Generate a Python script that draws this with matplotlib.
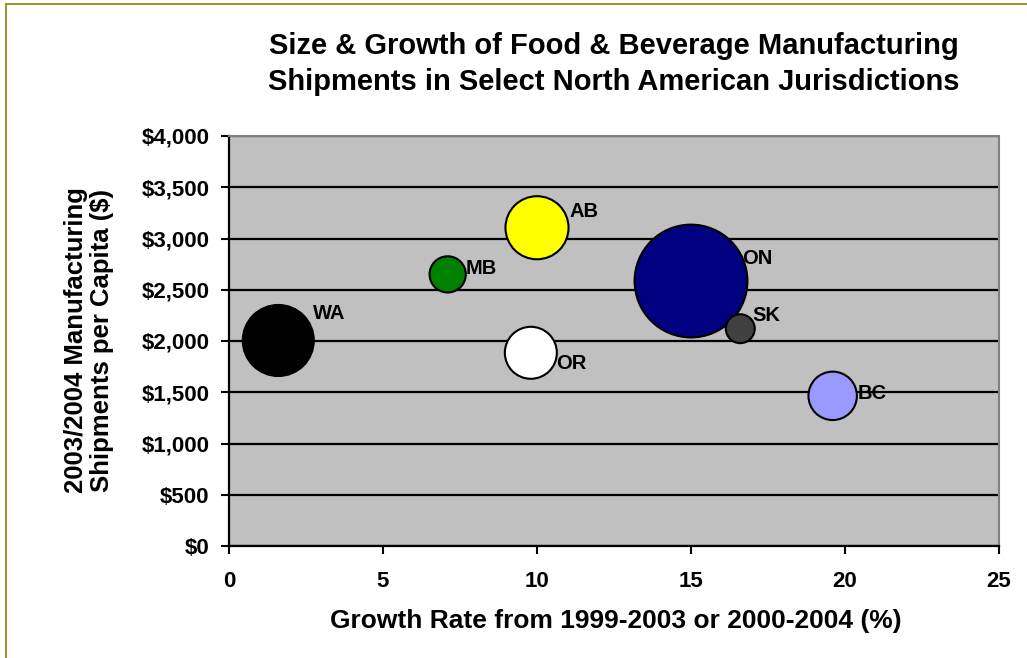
import matplotlib
matplotlib.use("Agg")
import matplotlib.pyplot as plt
from matplotlib.patches import Rectangle
from matplotlib.ticker import FuncFormatter
import numpy as np

plt.rcParams['font.family'] = ['Liberation Sans', 'DejaVu Sans']
plt.rcParams['font.weight'] = 'bold'

# data
regions = ["WA", "MB", "AB", "OR", "ON", "SK", "BC"]
growth = [1.6, 7.1, 10.0, 9.8, 15.0, 16.6, 19.6]
per_capita = [2005, 2650, 3105, 1885, 2585, 2120, 1465]
# total shipments (relative bubble size)
shipments = [12.7, 3.3, 10.0, 6.8, 32.0, 2.1, 5.9]
colors = ["#000000", "#008000", "#FFFF00", "#FFFFFF", "#000080", "#404040", "#9999FF"]

# label offsets in pixels (dx, dy), dy up
label_off = {"WA": (35, 27), "MB": (18, 6), "AB": (32, 16), "OR": (25, -11),
             "ON": (51, 23), "SK": (12, 13), "BC": (25, 2)}

fig = plt.figure(figsize=(10.27, 6.58), dpi=100)
fig.patch.set_facecolor("white")
fig.patches.append(Rectangle((6/1027, -0.05), 1.1, 1 - 4/658 + 0.05, transform=fig.transFigure,
                             fill=False, edgecolor="#999933", linewidth=1.5))

ax = fig.add_axes([229/1027, 1 - 546/658, 770/1027, 410/658])
ax.set_facecolor("#C0C0C0")
ax.set_xlim(0, 25)
ax.set_ylim(0, 4000)
ax.set_xticks(range(0, 26, 5))
ax.set_yticks(range(0, 4001, 500))
ax.yaxis.set_major_formatter(FuncFormatter(lambda v, p: "${:,.0f}".format(v)))
ax.grid(axis="y", color="black", linewidth=1.6)
ax.set_axisbelow(True)

for s in ["top", "right"]:
    ax.spines[s].set_color("#808080")
    ax.spines[s].set_linewidth(1.5)
for s in ["left", "bottom"]:
    ax.spines[s].set_color("black")
    ax.spines[s].set_linewidth(1.6)
ax.tick_params(axis="y", length=6, width=1.5, pad=8, labelsize=16)
ax.tick_params(axis="x", length=6, width=1.5, pad=12, labelsize=16)
for lab in ax.get_xticklabels() + ax.get_yticklabels():
    lab.set_fontweight("bold")

# bubble sizes: largest bubble radius ~56 px
r_px = 56.4 * np.sqrt(np.array(shipments) / max(shipments))
sizes = (2 * r_px * 72 / 100) ** 2
ax.scatter(growth, per_capita, s=sizes, c=colors, edgecolors="black", linewidths=1.5,
           zorder=3, clip_on=False)

for i, name in enumerate(regions):
    dx, dy = label_off[name]
    ax.annotate(name, (growth[i], per_capita[i]), xytext=(dx, dy), textcoords="offset pixels",
                ha="left", va="center", fontsize=14.5, fontweight="bold", zorder=4)

fig.text(614/1027, 1 - 64/658, "Size & Growth of Food & Beverage Manufacturing\nShipments in Select North American Jurisdictions",
         ha="center", va="center", fontsize=21, fontweight="bold", linespacing=1.4)
fig.text(616/1027, 1 - 621/658, "Growth Rate from 1999-2003 or 2000-2004 (%)",
         ha="center", va="center", fontsize=19, fontweight="bold")
fig.text(89/1027, 1 - 340/658, "2003/2004 Manufacturing\nShipments per Capita ($)",
         ha="center", va="center", rotation=90, fontsize=18.5, fontweight="bold", linespacing=1.15)

fig.savefig("out.png", dpi=100)
